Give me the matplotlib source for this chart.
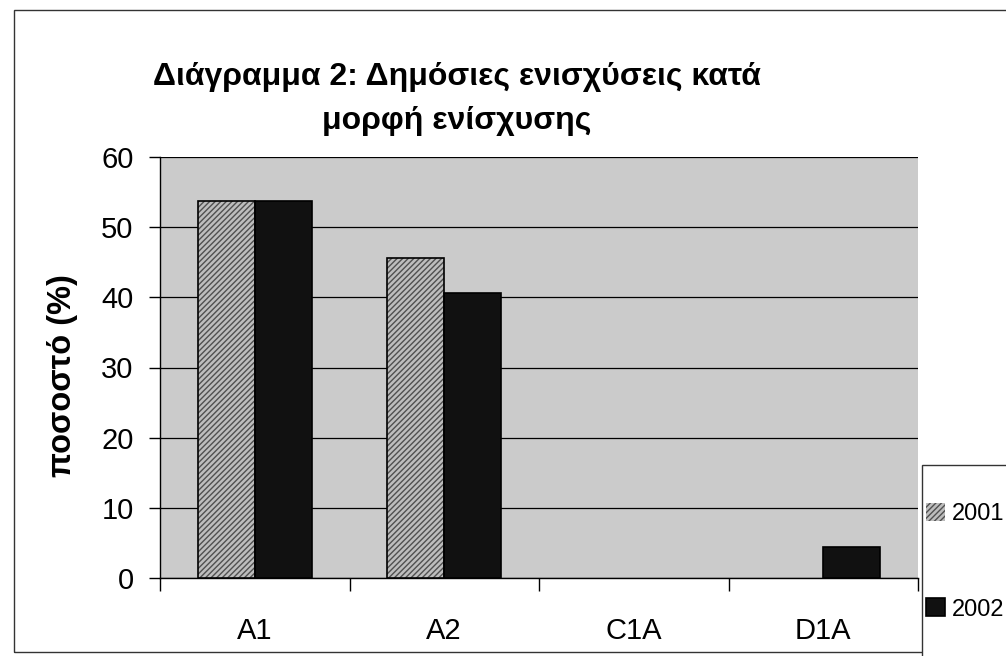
import numpy as np
import matplotlib
matplotlib.use('Agg')
import matplotlib.pyplot as plt
from matplotlib.patches import Rectangle

plt.rcParams['font.family'] = ['Liberation Sans', 'DejaVu Sans']

categories = ['A1', 'A2', 'C1A', 'D1A']
values_2001 = [53.8, 45.6, 0, 0]
values_2002 = [53.8, 40.6, 0, 4.4]
series_names = ['2001', '2002']

fig = plt.figure(figsize=(10.06, 6.56), dpi=100)
fig.patch.set_facecolor('white')

# outer chart frame
fig.patches.append(Rectangle((14 / 1006, 4 / 656), 1.0, 1 - 14 / 656,
                             transform=fig.transFigure, fill=False,
                             edgecolor='#333333', linewidth=1.0))
# legend frame (runs off the bottom/right like the original)
fig.patches.append(Rectangle((922 / 1006, -0.05), 0.2, 1 - 465 / 656 + 0.05,
                             transform=fig.transFigure, facecolor='white',
                             edgecolor='#333333', linewidth=1.0, zorder=5))

ax = fig.add_axes([160 / 1006, 1 - 578 / 656, 758 / 1006, 421 / 656])
ax.set_facecolor('#cbcbcb')

x = np.arange(len(categories))
w = 0.3
lw1 = [1.2 if v > 0 else 0 for v in values_2001]
lw2 = [1.2 if v > 0 else 0 for v in values_2002]
b1 = ax.bar(x - w / 2, values_2001, w, facecolor='#bdbdbd', edgecolor='#505050',
            hatch='//////', linewidth=0, zorder=3)
ax.bar(x - w / 2, values_2001, w, fill=False, edgecolor='black',
       linewidth=lw1, zorder=4)
b2 = ax.bar(x + w / 2, values_2002, w, facecolor='#111111', edgecolor='black',
            linewidth=lw2, zorder=3)

ax.set_xlim(-0.5, len(categories) - 0.5)
ax.set_ylim(0, 60)
ax.set_yticks(range(0, 61, 10))
ax.yaxis.grid(True, color='black', linewidth=0.9)
ax.set_axisbelow(True)

ax.set_xticks(x)
ax.set_xticklabels(categories)
ax.set_xticks(np.arange(-0.5, len(categories), 1), minor=True)
ax.tick_params(axis='x', which='major', length=0, pad=28, labelsize=21)
ax.tick_params(axis='x', which='minor', length=9, width=1)
ax.tick_params(axis='y', length=8, width=1, labelsize=21, pad=11)

ax.spines['top'].set_visible(False)
ax.spines['right'].set_visible(False)
ax.spines['left'].set_linewidth(1.0)
ax.spines['bottom'].set_linewidth(1.0)

ax.set_ylabel('ποσοστό (%)', fontsize=23.5, fontweight='bold')
ax.yaxis.set_label_coords(-0.108, 0.48)

fig.text(457 / 1006, 1 - 77 / 656, 'Διάγραμμα 2: Δημόσιες ενισχύσεις κατά',
         ha='center', va='center', fontsize=23, fontweight='bold')
fig.text(457 / 1006, 1 - 121 / 656, 'μορφή ενίσχυσης',
         ha='center', va='center', fontsize=23, fontweight='bold')

leg = fig.legend([b1, b2], series_names, loc='upper left',
                 bbox_to_anchor=(926 / 1006, 1 - 503 / 656),
                 frameon=False, fontsize=17,
                 handlelength=0.8, handleheight=0.8, handletextpad=0.3,
                 labelspacing=3.1, borderpad=0, borderaxespad=0)
leg.set_zorder(6)

fig.savefig('out.png', dpi=100)
